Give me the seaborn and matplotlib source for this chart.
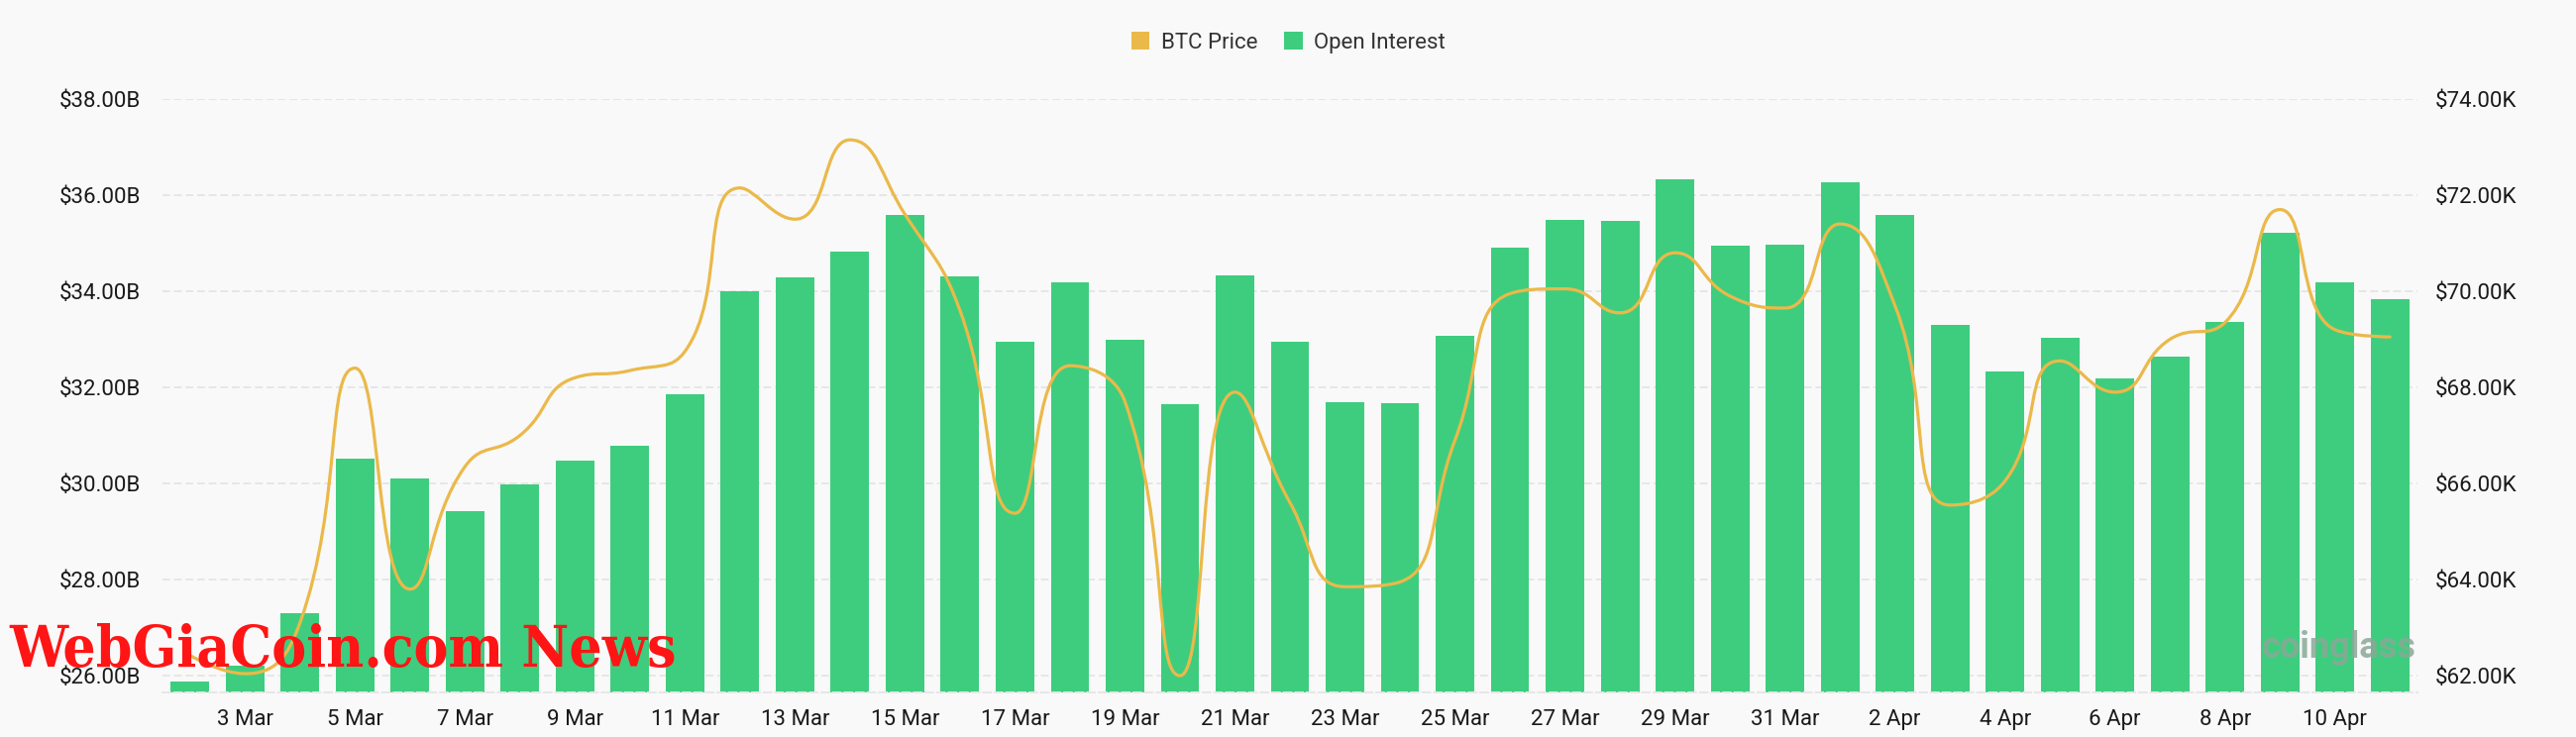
import numpy as np
import pandas as pd
import matplotlib
matplotlib.use("Agg")
import matplotlib.pyplot as plt
import seaborn as sns
from matplotlib.path import Path
from matplotlib.patches import PathPatch, Patch
from matplotlib import font_manager

# ---------------- data ----------------
dates = [f"{d} Mar" for d in range(2, 32)] + [f"{d} Apr" for d in range(1, 12)]
open_interest_b = [25.88, 26.2, 27.3, 30.52, 30.1, 29.43, 29.98, 30.47, 30.78, 31.85,
                   34.0, 34.28, 34.82, 35.59, 34.31, 32.94, 34.19, 32.98, 31.65, 34.33,
                   32.94, 31.69, 31.68, 33.07, 34.91, 35.48, 35.47, 36.34, 34.95, 34.96,
                   36.26, 35.58, 33.30, 32.32, 33.03, 32.18, 32.64, 33.36, 35.22, 34.18, 33.83]
btc_price_k = [62.42, 62.04, 63.1, 68.4, 63.8, 66.35, 67.0, 68.2, 68.35, 68.75,
               72.15, 71.5, 73.15, 71.6, 69.6, 65.38, 68.45, 67.7, 62.0, 67.9,
               65.6, 63.85, 63.95, 66.9, 69.95, 70.05, 69.55, 70.8, 69.9, 69.65,
               71.4, 69.7, 65.55, 66.05, 68.55, 67.9, 69.0, 69.35, 71.7, 69.2, 69.05]
left_ticks = [26, 28, 30, 32, 34, 36, 38]
right_ticks = [62, 64, 66, 68, 70, 72, 74]
series_names = ["BTC Price", "Open Interest"]

GREEN = "#3ecd7e"
GOLD = "#ebb94a"
BG = "#f9f9f9"
GRID = "#e6e6e6"

df = pd.DataFrame({"date": dates, "oi": open_interest_b, "price": btc_price_k})

sns.set_theme(style="white")
plt.rcParams["font.family"] = ["Roboto", "DejaVu Sans"]

W, H, DPI = 2600, 744, 100
fig = plt.figure(figsize=(W / DPI, H / DPI), dpi=DPI, facecolor=BG)
ax = fig.add_axes([164 / W, 1 - 699 / H, (2440 - 164) / W, (699 - 100) / H])
ax.set_facecolor(BG)

sns.barplot(data=df, x="date", y="oi", order=dates, color=GREEN, saturation=1,
            width=0.7, linewidth=0, edgecolor="none", ax=ax, zorder=2)

ax.set_xlim(-0.5, len(dates) - 0.5)
ax.set_ylim(25.65, 38)
ax.set_yticks(left_ticks)
ax.set_yticklabels([f"${v:.2f}B" for v in left_ticks])
ax.set_axisbelow(True)
ax.grid(axis="y", color=GRID, linestyle=(0, (4, 2)), linewidth=1.4, zorder=0)
ax.grid(axis="x", visible=False)
ax.set_xlabel("")
ax.set_ylabel("")

xt = list(range(1, len(dates), 2))
ax.set_xticks(xt)
ax.set_xticklabels([dates[i] for i in xt])
ax.tick_params(axis="x", length=0, pad=12, labelsize=16, labelcolor="#1a1a1a")
ax.tick_params(axis="y", length=0, pad=16, labelsize=16, labelcolor="#1a1a1a")
for s in ["top", "right", "left"]:
    ax.spines[s].set_visible(False)
ax.spines["bottom"].set_color(GRID)
ax.spines["bottom"].set_linewidth(1.4)
ax.spines["bottom"].set_linestyle((0, (4, 2)))

# ---------------- price line on right axis (echarts-style smooth bezier) ----------------
ax2 = ax.twinx()
ax2.set_ylim(61.65, 74)
ax2.set_yticks(right_ticks)
ax2.set_yticklabels([f"${v:.2f}K" for v in right_ticks])
ax2.tick_params(axis="y", length=0, pad=13, labelsize=16, labelcolor="#1a1a1a")
ax2.grid(False)
for s in ax2.spines.values():
    s.set_visible(False)

sx, sy = 55.5, 48.5  # pixel scale used for smoothing geometry
X = np.arange(len(btc_price_k)) * sx
Y = np.asarray(btc_price_k) * sy
smooth = 0.5
n = len(X)
verts = [(X[0], Y[0])]
codes = [Path.MOVETO]
cp0 = (X[0], Y[0])
for i in range(1, n):
    x, y = X[i], Y[i]
    if i < n - 1:
        px, py = X[i - 1], Y[i - 1]
        nx, ny = X[i + 1], Y[i + 1]
        vx, vy = nx - px, ny - py
        l0 = np.hypot(x - px, y - py)
        l1 = np.hypot(nx - x, ny - y)
        r = l1 / (l0 + l1)
        ncx = x + vx * smooth * r
        ncy = y + vy * smooth * r
        ncx = min(ncx, max(nx, x)); ncy = min(ncy, max(ny, y))
        ncx = max(ncx, min(nx, x)); ncy = max(ncy, min(ny, y))
        vx, vy = ncx - x, ncy - y
        c1x = x - vx * l0 / l1
        c1y = y - vy * l0 / l1
        c1x = min(c1x, max(px, x)); c1y = min(c1y, max(py, y))
        c1x = max(c1x, min(px, x)); c1y = max(c1y, min(py, y))
        vx, vy = x - c1x, y - c1y
        ncx = x + vx * l1 / l0
        ncy = y + vy * l1 / l0
        cp1 = (c1x, c1y)
        nxt = (ncx, ncy)
    else:
        cp1 = (x, y)
        nxt = None
    verts += [cp0, cp1, (x, y)]
    codes += [Path.CURVE4] * 3
    cp0 = nxt
verts = [(vx_ / sx, vy_ / sy) for vx_, vy_ in verts]
path = Path(verts, codes)
ax2.add_patch(PathPatch(path, facecolor="none", edgecolor=GOLD, linewidth=2.3,
                        capstyle="round", joinstyle="round", zorder=3))

# ---------------- legend ----------------
handles = [Patch(facecolor=GOLD, edgecolor="none", label=series_names[0]),
           Patch(facecolor=GREEN, edgecolor="none", label=series_names[1])]
fig.legend(handles=handles, loc="center", bbox_to_anchor=(0.5, 1 - 43 / H),
           ncol=2, frameon=False, fontsize=16, handlelength=0.85, handleheight=0.85,
           handletextpad=0.5, columnspacing=1.2, labelcolor="#333333")

# ---------------- watermarks ----------------
fig.text(2283 / W, 1 - 664 / H, "coinglass", fontsize=26, fontweight="bold",
         color="#8aa898", alpha=0.85, ha="left", va="baseline", zorder=5)

cond_path = font_manager.findfont(font_manager.FontProperties(
    family="DejaVu Serif", weight="bold", stretch="condensed"), fallback_to_default=True)
if "Condensed" in cond_path:
    wm_kw = dict(family=["DejaVu Serif"], fontstretch="condensed", fontsize=42)
else:
    wm_kw = dict(family=["DejaVu Serif"], fontsize=38)
fig.text(9 / W, 1 - 673 / H, "WebGiaCoin.com News", fontweight="bold",
         color="#ff1515", ha="left", va="baseline", zorder=10, **wm_kw)

fig.savefig("out.png", dpi=DPI, facecolor=BG)
